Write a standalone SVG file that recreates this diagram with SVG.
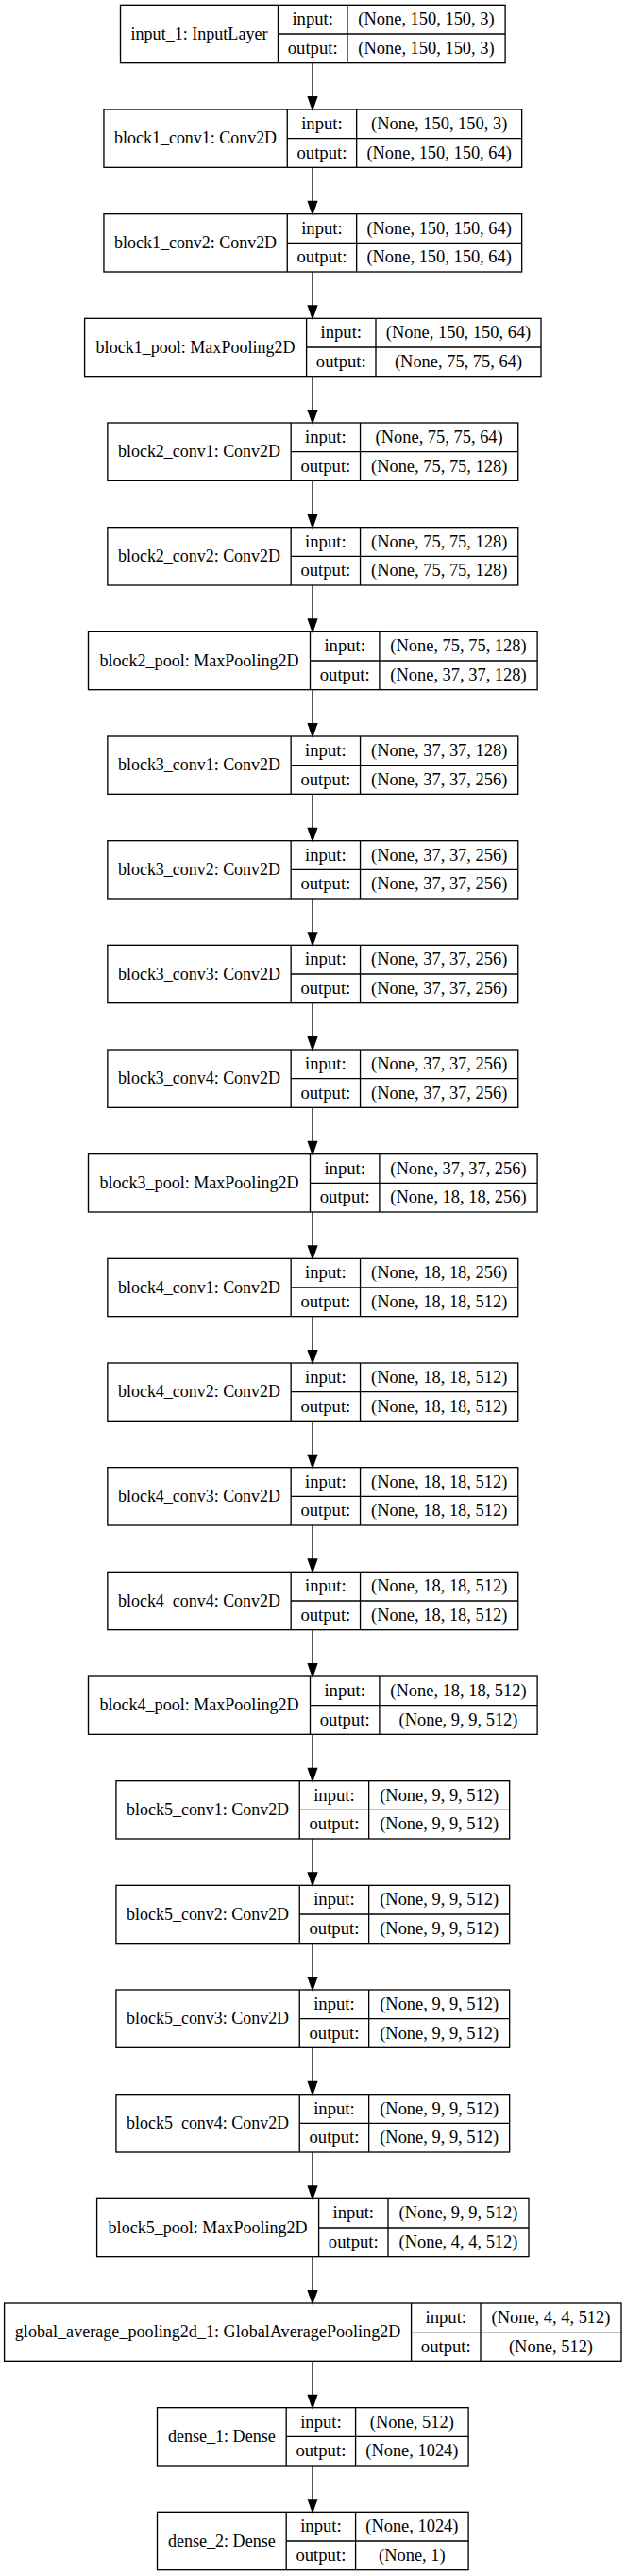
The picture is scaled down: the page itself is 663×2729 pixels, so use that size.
<svg xmlns="http://www.w3.org/2000/svg" xmlns:xlink="http://www.w3.org/1999/xlink" width="663" height="2729" viewBox="0 0 663 2729">
<style>
.f{fill:none;stroke:#000;stroke-width:1.33}
.t{font-family:"Liberation Serif","Times New Roman",serif;font-size:18.67px;fill:#000;text-anchor:middle}
.e{fill:none;stroke:#000;stroke-width:1.33}
</style>
<defs>
<marker id="ah" markerUnits="userSpaceOnUse" viewBox="0 0 13.33 9.33" refX="13.33" refY="4.67" markerWidth="13.33" markerHeight="9.33" orient="auto" overflow="visible">
<path d="M0,0 L13.33,4.67 L0,9.33 Z" fill="#000" stroke="#000" stroke-width="1.33"/>
</marker>
<g id="fInput"><rect class="f" x="0" y="0" width="407.6" height="61.33"/><path class="f" d="M167,0V61.33M240.4,0V61.33M167,30.67H407.6"/></g>
<g id="fConvB"><rect class="f" x="0" y="0" width="442.7" height="61.33"/><path class="f" d="M194.3,0V61.33M267.7,0V61.33M194.3,30.67H442.7"/></g>
<g id="fPoolB"><rect class="f" x="0" y="0" width="483.4" height="61.33"/><path class="f" d="M235,0V61.33M308.4,0V61.33M235,30.67H483.4"/></g>
<g id="fConvA"><rect class="f" x="0" y="0" width="434.9" height="61.33"/><path class="f" d="M194.3,0V61.33M267.7,0V61.33M194.3,30.67H434.9"/></g>
<g id="fPoolA"><rect class="f" x="0" y="0" width="475.6" height="61.33"/><path class="f" d="M235,0V61.33M308.4,0V61.33M235,30.67H475.6"/></g>
<g id="fConvC"><rect class="f" x="0" y="0" width="416.7" height="61.33"/><path class="f" d="M194.3,0V61.33M267.7,0V61.33M194.3,30.67H416.7"/></g>
<g id="fPoolC"><rect class="f" x="0" y="0" width="457.4" height="61.33"/><path class="f" d="M235,0V61.33M308.4,0V61.33M235,30.67H457.4"/></g>
<g id="fGlobal"><rect class="f" x="0" y="0" width="653.4" height="61.33"/><path class="f" d="M431,0V61.33M504.4,0V61.33M431,30.67H653.4"/></g>
<g id="fDense"><rect class="f" x="0" y="0" width="329.6" height="61.33"/><path class="f" d="M136.7,0V61.33M210.1,0V61.33M136.7,30.67H329.6"/></g>
</defs>
<rect x="0" y="0" width="663" height="2729" fill="#fff"/>

<g id="connectors">
<path class="e" marker-end="url(#ah)" d="M331,66.67V116"/>
<path class="e" marker-end="url(#ah)" d="M331,177.33V226.67"/>
<path class="e" marker-end="url(#ah)" d="M331,288V337.33"/>
<path class="e" marker-end="url(#ah)" d="M331,398.67V448"/>
<path class="e" marker-end="url(#ah)" d="M331,509.33V558.67"/>
<path class="e" marker-end="url(#ah)" d="M331,620V669.33"/>
<path class="e" marker-end="url(#ah)" d="M331,730.67V780"/>
<path class="e" marker-end="url(#ah)" d="M331,841.33V890.67"/>
<path class="e" marker-end="url(#ah)" d="M331,952V1001.33"/>
<path class="e" marker-end="url(#ah)" d="M331,1062.67V1112"/>
<path class="e" marker-end="url(#ah)" d="M331,1173.33V1222.67"/>
<path class="e" marker-end="url(#ah)" d="M331,1284V1333.33"/>
<path class="e" marker-end="url(#ah)" d="M331,1394.67V1444"/>
<path class="e" marker-end="url(#ah)" d="M331,1505.33V1554.67"/>
<path class="e" marker-end="url(#ah)" d="M331,1616V1665.33"/>
<path class="e" marker-end="url(#ah)" d="M331,1726.67V1776"/>
<path class="e" marker-end="url(#ah)" d="M331,1837.33V1886.67"/>
<path class="e" marker-end="url(#ah)" d="M331,1948V1997.33"/>
<path class="e" marker-end="url(#ah)" d="M331,2058.67V2108"/>
<path class="e" marker-end="url(#ah)" d="M331,2169.33V2218.67"/>
<path class="e" marker-end="url(#ah)" d="M331,2280V2329.33"/>
<path class="e" marker-end="url(#ah)" d="M331,2390.67V2440"/>
<path class="e" marker-end="url(#ah)" d="M331,2501.33V2550.67"/>
<path class="e" marker-end="url(#ah)" d="M331,2612V2661.33"/>
</g>

<g id="input_1" transform="translate(127.5,5.33)">
<use xlink:href="#fInput" href="#fInput"/>
<text class="t" x="83.5" y="36.27" textLength="144.9" lengthAdjust="spacingAndGlyphs">input_1: InputLayer</text>
<text class="t" x="203.7" y="20.93">input:</text>
<text class="t" x="203.7" y="51.6">output:</text>
<text class="t" x="324" y="20.93" textLength="144.3" lengthAdjust="spacingAndGlyphs">(None, 150, 150, 3)</text>
<text class="t" x="324" y="51.6" textLength="144.3" lengthAdjust="spacingAndGlyphs">(None, 150, 150, 3)</text>
</g>

<g id="block1_conv1" transform="translate(109.95,116)">
<use xlink:href="#fConvB" href="#fConvB"/>
<text class="t" x="97.15" y="36.27" textLength="172" lengthAdjust="spacingAndGlyphs">block1_conv1: Conv2D</text>
<text class="t" x="231" y="20.93">input:</text>
<text class="t" x="231" y="51.6">output:</text>
<text class="t" x="355.2" y="20.93" textLength="144.3" lengthAdjust="spacingAndGlyphs">(None, 150, 150, 3)</text>
<text class="t" x="355.2" y="51.6" textLength="153.5" lengthAdjust="spacingAndGlyphs">(None, 150, 150, 64)</text>
</g>

<g id="block1_conv2" transform="translate(109.95,226.67)">
<use xlink:href="#fConvB" href="#fConvB"/>
<text class="t" x="97.15" y="36.27" textLength="172" lengthAdjust="spacingAndGlyphs">block1_conv2: Conv2D</text>
<text class="t" x="231" y="20.93">input:</text>
<text class="t" x="231" y="51.6">output:</text>
<text class="t" x="355.2" y="20.93" textLength="153.5" lengthAdjust="spacingAndGlyphs">(None, 150, 150, 64)</text>
<text class="t" x="355.2" y="51.6" textLength="153.5" lengthAdjust="spacingAndGlyphs">(None, 150, 150, 64)</text>
</g>

<g id="block1_pool" transform="translate(89.6,337.33)">
<use xlink:href="#fPoolB" href="#fPoolB"/>
<text class="t" x="117.5" y="36.27" textLength="211" lengthAdjust="spacingAndGlyphs">block1_pool: MaxPooling2D</text>
<text class="t" x="271.7" y="20.93">input:</text>
<text class="t" x="271.7" y="51.6">output:</text>
<text class="t" x="395.9" y="20.93" textLength="153.5" lengthAdjust="spacingAndGlyphs">(None, 150, 150, 64)</text>
<text class="t" x="395.9" y="51.6" textLength="135.1" lengthAdjust="spacingAndGlyphs">(None, 75, 75, 64)</text>
</g>

<g id="block2_conv1" transform="translate(113.85,448)">
<use xlink:href="#fConvA" href="#fConvA"/>
<text class="t" x="97.15" y="36.27" textLength="172" lengthAdjust="spacingAndGlyphs">block2_conv1: Conv2D</text>
<text class="t" x="231" y="20.93">input:</text>
<text class="t" x="231" y="51.6">output:</text>
<text class="t" x="351.3" y="20.93" textLength="135.1" lengthAdjust="spacingAndGlyphs">(None, 75, 75, 64)</text>
<text class="t" x="351.3" y="51.6" textLength="144.3" lengthAdjust="spacingAndGlyphs">(None, 75, 75, 128)</text>
</g>

<g id="block2_conv2" transform="translate(113.85,558.67)">
<use xlink:href="#fConvA" href="#fConvA"/>
<text class="t" x="97.15" y="36.27" textLength="172" lengthAdjust="spacingAndGlyphs">block2_conv2: Conv2D</text>
<text class="t" x="231" y="20.93">input:</text>
<text class="t" x="231" y="51.6">output:</text>
<text class="t" x="351.3" y="20.93" textLength="144.3" lengthAdjust="spacingAndGlyphs">(None, 75, 75, 128)</text>
<text class="t" x="351.3" y="51.6" textLength="144.3" lengthAdjust="spacingAndGlyphs">(None, 75, 75, 128)</text>
</g>

<g id="block2_pool" transform="translate(93.5,669.33)">
<use xlink:href="#fPoolA" href="#fPoolA"/>
<text class="t" x="117.5" y="36.27" textLength="211" lengthAdjust="spacingAndGlyphs">block2_pool: MaxPooling2D</text>
<text class="t" x="271.7" y="20.93">input:</text>
<text class="t" x="271.7" y="51.6">output:</text>
<text class="t" x="392" y="20.93" textLength="144.3" lengthAdjust="spacingAndGlyphs">(None, 75, 75, 128)</text>
<text class="t" x="392" y="51.6" textLength="144.3" lengthAdjust="spacingAndGlyphs">(None, 37, 37, 128)</text>
</g>

<g id="block3_conv1" transform="translate(113.85,780)">
<use xlink:href="#fConvA" href="#fConvA"/>
<text class="t" x="97.15" y="36.27" textLength="172" lengthAdjust="spacingAndGlyphs">block3_conv1: Conv2D</text>
<text class="t" x="231" y="20.93">input:</text>
<text class="t" x="231" y="51.6">output:</text>
<text class="t" x="351.3" y="20.93" textLength="144.3" lengthAdjust="spacingAndGlyphs">(None, 37, 37, 128)</text>
<text class="t" x="351.3" y="51.6" textLength="144.3" lengthAdjust="spacingAndGlyphs">(None, 37, 37, 256)</text>
</g>

<g id="block3_conv2" transform="translate(113.85,890.67)">
<use xlink:href="#fConvA" href="#fConvA"/>
<text class="t" x="97.15" y="36.27" textLength="172" lengthAdjust="spacingAndGlyphs">block3_conv2: Conv2D</text>
<text class="t" x="231" y="20.93">input:</text>
<text class="t" x="231" y="51.6">output:</text>
<text class="t" x="351.3" y="20.93" textLength="144.3" lengthAdjust="spacingAndGlyphs">(None, 37, 37, 256)</text>
<text class="t" x="351.3" y="51.6" textLength="144.3" lengthAdjust="spacingAndGlyphs">(None, 37, 37, 256)</text>
</g>

<g id="block3_conv3" transform="translate(113.85,1001.33)">
<use xlink:href="#fConvA" href="#fConvA"/>
<text class="t" x="97.15" y="36.27" textLength="172" lengthAdjust="spacingAndGlyphs">block3_conv3: Conv2D</text>
<text class="t" x="231" y="20.93">input:</text>
<text class="t" x="231" y="51.6">output:</text>
<text class="t" x="351.3" y="20.93" textLength="144.3" lengthAdjust="spacingAndGlyphs">(None, 37, 37, 256)</text>
<text class="t" x="351.3" y="51.6" textLength="144.3" lengthAdjust="spacingAndGlyphs">(None, 37, 37, 256)</text>
</g>

<g id="block3_conv4" transform="translate(113.85,1112)">
<use xlink:href="#fConvA" href="#fConvA"/>
<text class="t" x="97.15" y="36.27" textLength="172" lengthAdjust="spacingAndGlyphs">block3_conv4: Conv2D</text>
<text class="t" x="231" y="20.93">input:</text>
<text class="t" x="231" y="51.6">output:</text>
<text class="t" x="351.3" y="20.93" textLength="144.3" lengthAdjust="spacingAndGlyphs">(None, 37, 37, 256)</text>
<text class="t" x="351.3" y="51.6" textLength="144.3" lengthAdjust="spacingAndGlyphs">(None, 37, 37, 256)</text>
</g>

<g id="block3_pool" transform="translate(93.5,1222.67)">
<use xlink:href="#fPoolA" href="#fPoolA"/>
<text class="t" x="117.5" y="36.27" textLength="211" lengthAdjust="spacingAndGlyphs">block3_pool: MaxPooling2D</text>
<text class="t" x="271.7" y="20.93">input:</text>
<text class="t" x="271.7" y="51.6">output:</text>
<text class="t" x="392" y="20.93" textLength="144.3" lengthAdjust="spacingAndGlyphs">(None, 37, 37, 256)</text>
<text class="t" x="392" y="51.6" textLength="144.3" lengthAdjust="spacingAndGlyphs">(None, 18, 18, 256)</text>
</g>

<g id="block4_conv1" transform="translate(113.85,1333.33)">
<use xlink:href="#fConvA" href="#fConvA"/>
<text class="t" x="97.15" y="36.27" textLength="172" lengthAdjust="spacingAndGlyphs">block4_conv1: Conv2D</text>
<text class="t" x="231" y="20.93">input:</text>
<text class="t" x="231" y="51.6">output:</text>
<text class="t" x="351.3" y="20.93" textLength="144.3" lengthAdjust="spacingAndGlyphs">(None, 18, 18, 256)</text>
<text class="t" x="351.3" y="51.6" textLength="144.3" lengthAdjust="spacingAndGlyphs">(None, 18, 18, 512)</text>
</g>

<g id="block4_conv2" transform="translate(113.85,1444)">
<use xlink:href="#fConvA" href="#fConvA"/>
<text class="t" x="97.15" y="36.27" textLength="172" lengthAdjust="spacingAndGlyphs">block4_conv2: Conv2D</text>
<text class="t" x="231" y="20.93">input:</text>
<text class="t" x="231" y="51.6">output:</text>
<text class="t" x="351.3" y="20.93" textLength="144.3" lengthAdjust="spacingAndGlyphs">(None, 18, 18, 512)</text>
<text class="t" x="351.3" y="51.6" textLength="144.3" lengthAdjust="spacingAndGlyphs">(None, 18, 18, 512)</text>
</g>

<g id="block4_conv3" transform="translate(113.85,1554.67)">
<use xlink:href="#fConvA" href="#fConvA"/>
<text class="t" x="97.15" y="36.27" textLength="172" lengthAdjust="spacingAndGlyphs">block4_conv3: Conv2D</text>
<text class="t" x="231" y="20.93">input:</text>
<text class="t" x="231" y="51.6">output:</text>
<text class="t" x="351.3" y="20.93" textLength="144.3" lengthAdjust="spacingAndGlyphs">(None, 18, 18, 512)</text>
<text class="t" x="351.3" y="51.6" textLength="144.3" lengthAdjust="spacingAndGlyphs">(None, 18, 18, 512)</text>
</g>

<g id="block4_conv4" transform="translate(113.85,1665.33)">
<use xlink:href="#fConvA" href="#fConvA"/>
<text class="t" x="97.15" y="36.27" textLength="172" lengthAdjust="spacingAndGlyphs">block4_conv4: Conv2D</text>
<text class="t" x="231" y="20.93">input:</text>
<text class="t" x="231" y="51.6">output:</text>
<text class="t" x="351.3" y="20.93" textLength="144.3" lengthAdjust="spacingAndGlyphs">(None, 18, 18, 512)</text>
<text class="t" x="351.3" y="51.6" textLength="144.3" lengthAdjust="spacingAndGlyphs">(None, 18, 18, 512)</text>
</g>

<g id="block4_pool" transform="translate(93.5,1776)">
<use xlink:href="#fPoolA" href="#fPoolA"/>
<text class="t" x="117.5" y="36.27" textLength="211" lengthAdjust="spacingAndGlyphs">block4_pool: MaxPooling2D</text>
<text class="t" x="271.7" y="20.93">input:</text>
<text class="t" x="271.7" y="51.6">output:</text>
<text class="t" x="392" y="20.93" textLength="144.3" lengthAdjust="spacingAndGlyphs">(None, 18, 18, 512)</text>
<text class="t" x="392" y="51.6" textLength="125.9" lengthAdjust="spacingAndGlyphs">(None, 9, 9, 512)</text>
</g>

<g id="block5_conv1" transform="translate(122.95,1886.67)">
<use xlink:href="#fConvC" href="#fConvC"/>
<text class="t" x="97.15" y="36.27" textLength="172" lengthAdjust="spacingAndGlyphs">block5_conv1: Conv2D</text>
<text class="t" x="231" y="20.93">input:</text>
<text class="t" x="231" y="51.6">output:</text>
<text class="t" x="342.2" y="20.93" textLength="125.9" lengthAdjust="spacingAndGlyphs">(None, 9, 9, 512)</text>
<text class="t" x="342.2" y="51.6" textLength="125.9" lengthAdjust="spacingAndGlyphs">(None, 9, 9, 512)</text>
</g>

<g id="block5_conv2" transform="translate(122.95,1997.33)">
<use xlink:href="#fConvC" href="#fConvC"/>
<text class="t" x="97.15" y="36.27" textLength="172" lengthAdjust="spacingAndGlyphs">block5_conv2: Conv2D</text>
<text class="t" x="231" y="20.93">input:</text>
<text class="t" x="231" y="51.6">output:</text>
<text class="t" x="342.2" y="20.93" textLength="125.9" lengthAdjust="spacingAndGlyphs">(None, 9, 9, 512)</text>
<text class="t" x="342.2" y="51.6" textLength="125.9" lengthAdjust="spacingAndGlyphs">(None, 9, 9, 512)</text>
</g>

<g id="block5_conv3" transform="translate(122.95,2108)">
<use xlink:href="#fConvC" href="#fConvC"/>
<text class="t" x="97.15" y="36.27" textLength="172" lengthAdjust="spacingAndGlyphs">block5_conv3: Conv2D</text>
<text class="t" x="231" y="20.93">input:</text>
<text class="t" x="231" y="51.6">output:</text>
<text class="t" x="342.2" y="20.93" textLength="125.9" lengthAdjust="spacingAndGlyphs">(None, 9, 9, 512)</text>
<text class="t" x="342.2" y="51.6" textLength="125.9" lengthAdjust="spacingAndGlyphs">(None, 9, 9, 512)</text>
</g>

<g id="block5_conv4" transform="translate(122.95,2218.67)">
<use xlink:href="#fConvC" href="#fConvC"/>
<text class="t" x="97.15" y="36.27" textLength="172" lengthAdjust="spacingAndGlyphs">block5_conv4: Conv2D</text>
<text class="t" x="231" y="20.93">input:</text>
<text class="t" x="231" y="51.6">output:</text>
<text class="t" x="342.2" y="20.93" textLength="125.9" lengthAdjust="spacingAndGlyphs">(None, 9, 9, 512)</text>
<text class="t" x="342.2" y="51.6" textLength="125.9" lengthAdjust="spacingAndGlyphs">(None, 9, 9, 512)</text>
</g>

<g id="block5_pool" transform="translate(102.6,2329.33)">
<use xlink:href="#fPoolC" href="#fPoolC"/>
<text class="t" x="117.5" y="36.27" textLength="211" lengthAdjust="spacingAndGlyphs">block5_pool: MaxPooling2D</text>
<text class="t" x="271.7" y="20.93">input:</text>
<text class="t" x="271.7" y="51.6">output:</text>
<text class="t" x="382.9" y="20.93" textLength="125.9" lengthAdjust="spacingAndGlyphs">(None, 9, 9, 512)</text>
<text class="t" x="382.9" y="51.6" textLength="125.9" lengthAdjust="spacingAndGlyphs">(None, 4, 4, 512)</text>
</g>

<g id="global_average_pooling2d_1" transform="translate(4.6,2440)">
<use xlink:href="#fGlobal" href="#fGlobal"/>
<text class="t" x="215.5" y="36.27" textLength="408.6" lengthAdjust="spacingAndGlyphs">global_average_pooling2d_1: GlobalAveragePooling2D</text>
<text class="t" x="467.7" y="20.93">input:</text>
<text class="t" x="467.7" y="51.6">output:</text>
<text class="t" x="578.9" y="20.93" textLength="125.9" lengthAdjust="spacingAndGlyphs">(None, 4, 4, 512)</text>
<text class="t" x="578.9" y="51.6" textLength="89" lengthAdjust="spacingAndGlyphs">(None, 512)</text>
</g>

<g id="dense_1" transform="translate(166.5,2550.67)">
<use xlink:href="#fDense" href="#fDense"/>
<text class="t" x="68.35" y="36.27" textLength="113.8" lengthAdjust="spacingAndGlyphs">dense_1: Dense</text>
<text class="t" x="173.4" y="20.93">input:</text>
<text class="t" x="173.4" y="51.6">output:</text>
<text class="t" x="269.85" y="20.93" textLength="89" lengthAdjust="spacingAndGlyphs">(None, 512)</text>
<text class="t" x="269.85" y="51.6" textLength="98.2" lengthAdjust="spacingAndGlyphs">(None, 1024)</text>
</g>

<g id="dense_2" transform="translate(166.5,2661.33)">
<use xlink:href="#fDense" href="#fDense"/>
<text class="t" x="68.35" y="36.27" textLength="113.8" lengthAdjust="spacingAndGlyphs">dense_2: Dense</text>
<text class="t" x="173.4" y="20.93">input:</text>
<text class="t" x="173.4" y="51.6">output:</text>
<text class="t" x="269.85" y="20.93" textLength="98.2" lengthAdjust="spacingAndGlyphs">(None, 1024)</text>
<text class="t" x="269.85" y="51.6" textLength="70.6" lengthAdjust="spacingAndGlyphs">(None, 1)</text>
</g>
</svg>
